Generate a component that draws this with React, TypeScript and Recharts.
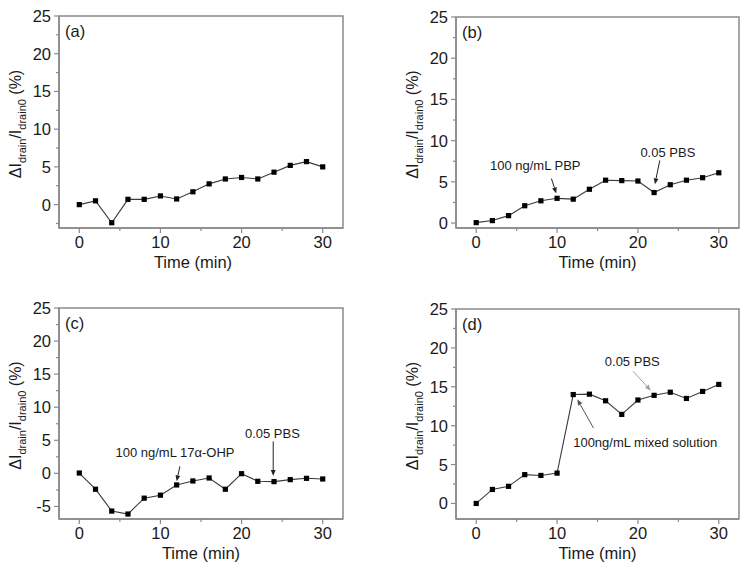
import React from "react";
import {
  Line,
  LineChart,
  ReferenceArea,
  ReferenceDot,
  ReferenceLine,
  XAxis,
  YAxis,
} from "recharts";

const time = [0, 2, 4, 6, 8, 10, 12, 14, 16, 18, 20, 22, 24, 26, 28, 30];

const seriesA = [0, 0.5, -2.4, 0.7, 0.7, 1.15, 0.75, 1.7, 2.75, 3.4, 3.6, 3.4, 4.3, 5.2, 5.7, 5.0];
const seriesB = [0.05, 0.3, 0.9, 2.1, 2.7, 3.0, 2.9, 4.1, 5.2, 5.15, 5.1, 3.7, 4.65, 5.2, 5.5, 6.1];
const seriesC = [0.05, -2.4, -5.7, -6.15, -3.75, -3.3, -1.75, -1.15, -0.7, -2.4, -0.05, -1.2, -1.25, -0.95, -0.75, -0.85];
const seriesD = [0, 1.8, 2.2, 3.7, 3.6, 3.9, 14.0, 14.05, 13.2, 11.45, 13.3, 13.9, 14.3, 13.5, 14.4, 15.3];

const xDomain: [number, number] = [-2.5, 32.5];
const xTicks = [0, 5, 10, 15, 20, 25, 30];
const yTicksA = [-2.5, 0, 2.5, 5, 7.5, 10, 12.5, 15, 17.5, 20, 22.5, 25];
const yTicksB = [0, 2.5, 5, 7.5, 10, 12.5, 15, 17.5, 20, 22.5, 25];
const yTicksC = [-5, -2.5, 0, 2.5, 5, 7.5, 10, 12.5, 15, 17.5, 20, 22.5, 25];
const yTicksD = [0, 2.5, 5, 7.5, 10, 12.5, 15, 17.5, 20, 22.5, 25];

type Note = {
  text: string;
  tx: number;
  ty: number;
  from: [number, number];
  to: [number, number];
  color: string;
};

const notesB: Note[] = [
  { text: "100 ng/mL PBP", tx: 7.3, ty: 7.0, from: [9.3, 5.4], to: [9.9, 3.6], color: "#222" },
  { text: "0.05 PBS", tx: 23.7, ty: 8.55, from: [22.7, 7.6], to: [22.1, 4.7], color: "#222" },
];
const notesC: Note[] = [
  { text: "100 ng/mL 17α-OHP", tx: 11.8, ty: 3.1, from: [12.4, 1.06], to: [12.0, -1.2], color: "#222" },
  { text: "0.05 PBS", tx: 23.8, ty: 6.1, from: [23.9, 4.84], to: [23.9, -0.4], color: "#222" },
];
const notesD: Note[] = [
  { text: "0.05 PBS", tx: 19.3, ty: 18.2, from: [19.4, 17.0], to: [21.6, 14.5], color: "#a0a0a0" },
  { text: "100ng/mL mixed solution", tx: 20.9, ty: 7.8, from: [14.5, 9.7], to: [12.5, 13.4], color: "#555" },
];

const FONT = '"Liberation Sans", Arial, sans-serif';
const INK = "#1a1a1a";
const FRAME = "#8a8a8a";

const XTick = (props: any) => {
  const { x, y, payload } = props;
  const major = payload.value % 10 === 0;
  return (
    <g>
      <line x1={x} y1={y} x2={x} y2={y + (major ? 5 : 3)} stroke={FRAME} strokeWidth={1.2} />
      {major && (
        <text x={x} y={y + 19.5} textAnchor="middle" fontSize={16.5} fill={INK} fontFamily={FONT}>
          {payload.value}
        </text>
      )}
    </g>
  );
};

const YTick = (props: any) => {
  const { x, y, payload } = props;
  const major = payload.value % 5 === 0;
  return (
    <g>
      <line x1={x - (major ? 5 : 3)} y1={y} x2={x} y2={y} stroke={FRAME} strokeWidth={1.2} />
      {major && (
        <text x={x - 8} y={y + 6} textAnchor="end" fontSize={16.5} fill={INK} fontFamily={FONT}>
          {payload.value}
        </text>
      )}
    </g>
  );
};

const arrowShape = (color: string) => (p: any) => {
  const { x1, y1, x2, y2 } = p;
  const ang = Math.atan2(y2 - y1, x2 - x1);
  const len = 6;
  const half = 2.4;
  const bx = x2 - len * Math.cos(ang);
  const by = y2 - len * Math.sin(ang);
  const pts = [
    `${x2},${y2}`,
    `${bx - half * Math.sin(ang)},${by + half * Math.cos(ang)}`,
    `${bx + half * Math.sin(ang)},${by - half * Math.cos(ang)}`,
  ].join(" ");
  return (
    <g>
      <line x1={x1} y1={y1} x2={bx} y2={by} stroke={color} strokeWidth={1} />
      <polygon points={pts} fill={color} />
    </g>
  );
};

type PanelProps = {
  letter: string;
  values: number[];
  yDomain: [number, number];
  yTicks: number[];
  notes: Note[];
  left: number;
  top: number;
  width: number;
  height: number;
  plot: { l: number; r: number; t: number; b: number };
  titleDx: number;
};

function Panel({ letter, values, yDomain, yTicks, notes, left, top, width, height, plot, titleDx }: PanelProps) {
  const rows = time.map((t, i) => ({ t, v: values[i] }));
  const cyMid = (plot.t + plot.b) / 2;
  const cxMid = (plot.l + plot.r) / 2;

  return (
    <div style={{ position: "absolute", left, top, width, height }}>
      <LineChart
        width={width}
        height={height}
        data={rows}
        margin={{ top: plot.t, right: width - plot.r, bottom: 0, left: 0 }}
      >
        <XAxis
          dataKey="t"
          type="number"
          domain={xDomain}
          ticks={xTicks}
          interval={0}
          allowDataOverflow
          height={height - plot.b}
          tickSize={0}
          tickMargin={0}
          tick={<XTick />}
          axisLine={{ stroke: FRAME, strokeWidth: 1.5 }}
          label={{
            content: () => (
              <text x={cxMid + titleDx} y={plot.b + 40} textAnchor="middle" fontSize={16.5} fill={INK} fontFamily={FONT}>
                Time (min)
              </text>
            ),
          }}
        />
        <YAxis
          type="number"
          domain={yDomain}
          ticks={yTicks}
          interval={0}
          allowDataOverflow
          width={plot.l}
          tickSize={0}
          tickMargin={0}
          tick={<YTick />}
          axisLine={{ stroke: FRAME, strokeWidth: 1.5 }}
          label={{
            content: () => (
              <text
                transform={`translate(${plot.l - 38},${cyMid + 2}) rotate(-90)`}
                textAnchor="middle"
                fontSize={16}
                fill={INK}
                fontFamily={FONT}
              >
                ΔI
                <tspan fontSize={11} dy={4.5}>drain</tspan>
                <tspan dy={-4.5}>/I</tspan>
                <tspan fontSize={11} dy={4.5}>drain0</tspan>
                <tspan dy={-4.5}> (%)</tspan>
              </text>
            ),
          }}
        />
        <ReferenceArea
          x1={xDomain[0]}
          x2={xDomain[1]}
          y1={yDomain[0]}
          y2={yDomain[1]}
          ifOverflow="visible"
          fill="none"
          fillOpacity={0}
          stroke={FRAME}
          strokeWidth={1.5}
        />
        <Line
          dataKey="v"
          stroke="#3a3a3a"
          strokeWidth={1.1}
          isAnimationActive={false}
          dot={(p: any) => (
            <rect key={`d${p.index}`} x={p.cx - 2.6} y={p.cy - 2.6} width={5.2} height={5.2} fill="#000" />
          )}
          activeDot={false}
        />
        {notes.map((n, i) => (
          <ReferenceLine
            key={`l${i}`}
            segment={[
              { x: n.from[0], y: n.from[1] },
              { x: n.to[0], y: n.to[1] },
            ]}
            ifOverflow="visible"
            shape={arrowShape(n.color)}
          />
        ))}
        {notes.map((n, i) => (
          <ReferenceDot
            key={`t${i}`}
            x={n.tx}
            y={n.ty}
            r={1}
            ifOverflow="visible"
            shape={(p: any) => (
              <text x={p.cx} y={p.cy + 4.5} textAnchor="middle" fontSize={13} fill={INK} fontFamily={FONT}>
                {n.text}
              </text>
            )}
          />
        ))}
        <ReferenceDot
          x={xDomain[0]}
          y={yDomain[1]}
          r={1}
          ifOverflow="visible"
          shape={(p: any) => (
            <text x={p.cx + 6} y={p.cy + 21} fontSize={16.5} fill={INK} fontFamily={FONT}>
              {letter}
            </text>
          )}
        />
      </LineChart>
    </div>
  );
}

export default function App() {
  return (
    <div
      style={{
        position: "absolute",
        left: 0,
        top: 0,
        width: 749,
        height: 573,
        background: "#fff",
        fontFamily: FONT,
      }}
    >
      <Panel
        letter="(a)"
        values={seriesA}
        yDomain={[-3.1, 25]}
        yTicks={yTicksA}
        notes={[]}
        left={0}
        top={0}
        width={375}
        height={290}
        plot={{ l: 59, r: 343, t: 16, b: 228 }}
        titleDx={-8}
      />
      <Panel
        letter="(b)"
        values={seriesB}
        yDomain={[-0.6, 25]}
        yTicks={yTicksB}
        notes={notesB}
        left={375}
        top={0}
        width={374}
        height={290}
        plot={{ l: 81, r: 364, t: 17, b: 228 }}
        titleDx={0}
      />
      <Panel
        letter="(c)"
        values={seriesC}
        yDomain={[-6.9, 25]}
        yTicks={yTicksC}
        notes={notesC}
        left={0}
        top={290}
        width={375}
        height={283}
        plot={{ l: 59, r: 343, t: 18, b: 229 }}
        titleDx={0}
      />
      <Panel
        letter="(d)"
        values={seriesD}
        yDomain={[-2, 25]}
        yTicks={yTicksD}
        notes={notesD}
        left={375}
        top={290}
        width={374}
        height={283}
        plot={{ l: 81, r: 364, t: 19, b: 229 }}
        titleDx={0}
      />
    </div>
  );
}
